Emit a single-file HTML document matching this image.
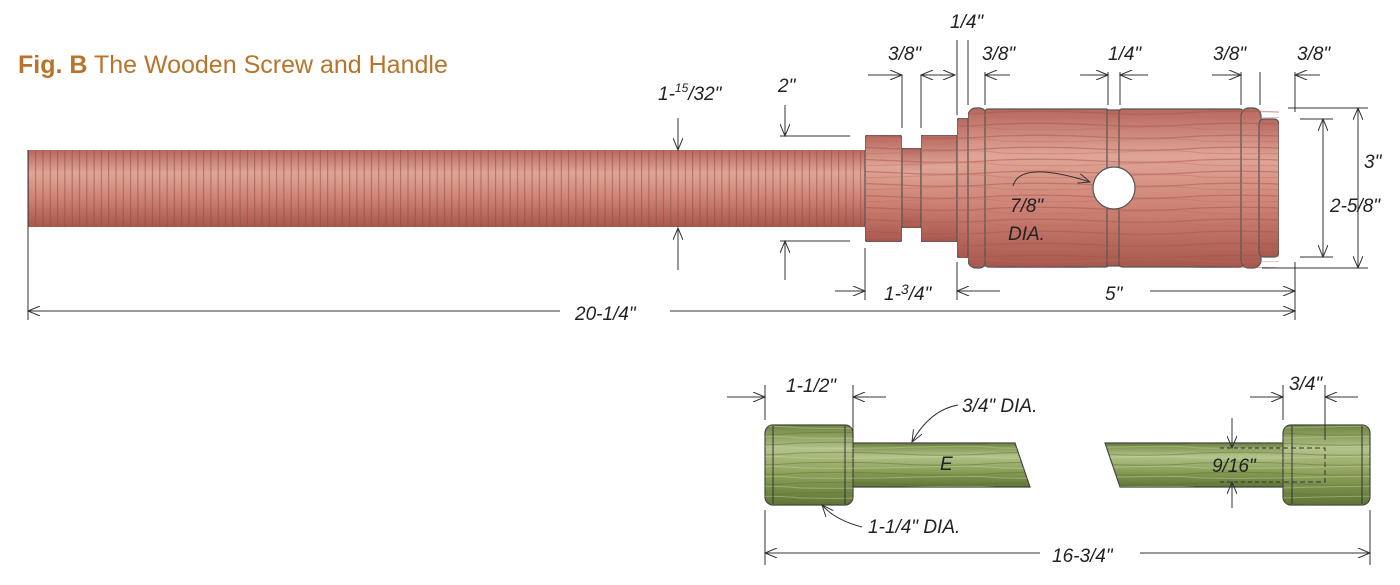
<!DOCTYPE html>
<html><head><meta charset="utf-8"><style>
html,body{margin:0;padding:0;background:#fff;}
svg{display:block}
.h{font-family:"Liberation Sans",sans-serif;font-size:19px;fill:#222;font-style:italic}
.l{stroke:#333;stroke-width:1;fill:none}
</style></head><body>
<svg width="1400" height="585" viewBox="0 0 1400 585" xmlns="http://www.w3.org/2000/svg">
<defs>
<linearGradient id="rv" x1="0" y1="0" x2="0" y2="1">
<stop offset="0" stop-color="#b8685e"/><stop offset="0.3" stop-color="#e0a596"/><stop offset="0.6" stop-color="#cf8577"/><stop offset="1" stop-color="#a9574d"/>
</linearGradient>
<pattern id="th" width="7.3" height="100" patternUnits="userSpaceOnUse">
<line x1="6.5" y1="0" x2="6.5" y2="100" stroke="#8a4a42" stroke-width="1" opacity="0.6"/>
</pattern>
<pattern id="grain" width="200" height="12" patternUnits="userSpaceOnUse">
<path d="M0 4 Q50 2 100 5 T200 4" stroke="#a3554b" stroke-width="1.3" fill="none" opacity="0.6"/>
<path d="M0 9 Q60 11 120 8 T200 9" stroke="#b86a5f" stroke-width="1" fill="none" opacity="0.5"/>
</pattern>
<linearGradient id="gv" x1="0" y1="0" x2="0" y2="1">
<stop offset="0" stop-color="#6f8440"/><stop offset="0.3" stop-color="#b3c28a"/><stop offset="0.6" stop-color="#8ea25c"/><stop offset="1" stop-color="#5f7535"/>
</linearGradient>
<pattern id="gg" width="200" height="10" patternUnits="userSpaceOnUse">
<path d="M0 3 Q50 1 100 4 T200 3" stroke="#5d7230" stroke-width="1" fill="none" opacity="0.5"/>
<path d="M0 8 Q60 9 120 7 T200 8" stroke="#d0dbb0" stroke-width="1" fill="none" opacity="0.4"/>
</pattern>
<marker id="a" viewBox="0 0 12 10" refX="12" refY="5" markerWidth="14" markerHeight="10" markerUnits="userSpaceOnUse" orient="auto"><path d="M0 0 L12 5 L0 10" fill="none" stroke="#333" stroke-width="1"/></marker>
</defs>

<rect x="28" y="150" width="838" height="77" fill="url(#rv)"/>
<rect x="28" y="150" width="838" height="77" fill="url(#th)"/>
<g stroke="#555" stroke-width="1.2">
<rect x="865" y="135" width="37" height="107" rx="3" fill="url(#rv)"/>
<rect x="902" y="148" width="19" height="80" fill="url(#rv)"/>
<rect x="921" y="135" width="36" height="107" rx="2" fill="url(#rv)"/>
<rect x="957" y="118" width="13" height="140" rx="3" fill="url(#rv)"/>
<rect x="968" y="108" width="19" height="160" rx="8" fill="url(#rv)"/>
<rect x="985" y="109" width="124" height="158" rx="3" fill="url(#rv)"/>
<rect x="1107" y="110" width="13" height="156" fill="url(#rv)"/>
<rect x="1119" y="109" width="124" height="158" rx="3" fill="url(#rv)"/>
<rect x="1241" y="108" width="20" height="160" rx="8" fill="url(#rv)"/>
<rect x="1259" y="119" width="20" height="138" rx="5" fill="url(#rv)"/>
</g>
<rect x="865" y="108" width="414" height="160" fill="url(#grain)" opacity="0.8"/>
<rect x="28" y="90" width="837" height="60" fill="#fff"/>
<rect x="28" y="227" width="837" height="41" fill="#fff"/>
<rect x="865" y="108" width="92" height="27" fill="#fff"/><rect x="865" y="242" width="92" height="26" fill="#fff"/>
<rect x="902" y="135" width="19" height="13" fill="#fff"/><rect x="902" y="228" width="19" height="14" fill="#fff"/>
<rect x="957" y="108" width="11" height="10" fill="#fff"/><rect x="957" y="258" width="11" height="10" fill="#fff"/>
<rect x="1279" y="108" width="10" height="160" fill="#fff"/>
<circle cx="1114" cy="188" r="21" fill="#fff" stroke="#555" stroke-width="1.2"/>
<path d="M1013 186 Q1020 160 1090 182" class="l" marker-end="url(#a)"/>
<text x="1010" y="212" class="h">7/8"</text><text x="1008" y="240" class="h">DIA.</text>

<g class="l">
<line x1="902" y1="75" x2="902" y2="128"/><line x1="921" y1="75" x2="921" y2="128"/>
<line x1="868" y1="75" x2="902" y2="75" marker-end="url(#a)"/><line x1="955" y1="75" x2="921" y2="75" marker-end="url(#a)"/><line x1="921" y1="75" x2="955" y2="75" marker-end="url(#a)"/>
<line x1="957" y1="40" x2="957" y2="115"/><line x1="968" y1="40" x2="968" y2="105"/>
<line x1="985" y1="72" x2="985" y2="105"/><line x1="1010" y1="75" x2="985" y2="75" marker-end="url(#a)"/>
<line x1="1108" y1="72" x2="1108" y2="105"/><line x1="1120" y1="72" x2="1120" y2="105"/>
<line x1="1080" y1="75" x2="1108" y2="75" marker-end="url(#a)"/><line x1="1148" y1="75" x2="1120" y2="75" marker-end="url(#a)"/>
<line x1="1241" y1="72" x2="1241" y2="105"/><line x1="1260" y1="72" x2="1260" y2="105"/>
<line x1="1212" y1="75" x2="1241" y2="75" marker-end="url(#a)"/>
<line x1="1295" y1="72" x2="1295" y2="112"/><line x1="1320" y1="75" x2="1295" y2="75" marker-end="url(#a)"/>
<line x1="1288" y1="108" x2="1368" y2="108"/><line x1="1262" y1="268" x2="1368" y2="268"/>
<line x1="1358" y1="188" x2="1358" y2="108" marker-end="url(#a)"/><line x1="1358" y1="188" x2="1358" y2="268" marker-end="url(#a)"/>
<line x1="1300" y1="119" x2="1333" y2="119"/><line x1="1300" y1="257" x2="1333" y2="257"/>
<line x1="1323" y1="188" x2="1323" y2="119" marker-end="url(#a)"/><line x1="1323" y1="188" x2="1323" y2="257" marker-end="url(#a)"/>
<line x1="780" y1="136" x2="850" y2="136"/><line x1="780" y1="241" x2="850" y2="241"/>
<line x1="785" y1="105" x2="785" y2="136" marker-end="url(#a)"/><line x1="785" y1="280" x2="785" y2="241" marker-end="url(#a)"/>
<line x1="678" y1="118" x2="678" y2="150" marker-end="url(#a)"/><line x1="678" y1="270" x2="678" y2="228" marker-end="url(#a)"/>
<line x1="865" y1="248" x2="865" y2="300"/><line x1="957" y1="262" x2="957" y2="300"/><line x1="1295" y1="262" x2="1295" y2="320"/>
<line x1="835" y1="291" x2="865" y2="291" marker-end="url(#a)"/>
<line x1="1000" y1="291" x2="957" y2="291" marker-end="url(#a)"/><line x1="1150" y1="291" x2="1295" y2="291" marker-end="url(#a)"/>
<line x1="28" y1="150" x2="28" y2="320"/>
<line x1="560" y1="311" x2="28" y2="311" marker-end="url(#a)"/><line x1="670" y1="311" x2="1295" y2="311" marker-end="url(#a)"/>
</g>
<text x="888" y="60" class="h">3/8"</text>
<text x="950" y="28" class="h">1/4"</text>
<text x="982" y="60" class="h">3/8"</text>
<text x="1108" y="60" class="h">1/4"</text>
<text x="1213" y="60" class="h">3/8"</text>
<text x="1297" y="60" class="h">3/8"</text>
<text x="1364" y="168" class="h" font-size="21">3"</text>
<text x="1330" y="212" class="h">2-5/8"</text>
<text x="778" y="92" class="h">2"</text>
<text x="658" y="100" class="h">1-<tspan font-size="12" dy="-8">15</tspan><tspan dy="8">/32"</tspan></text>
<text x="884" y="300" class="h">1-<tspan font-size="14" dy="-6">3</tspan><tspan dy="6">/4"</tspan></text>
<text x="1105" y="300" class="h">5"</text>
<text x="575" y="320" class="h">20-1/4"</text>

<g stroke="#444" stroke-width="1.2">
<path d="M853 443 L1015 443 L1030 487 L853 487 Z" fill="url(#gv)"/>
<path d="M1105 443 L1283 443 L1283 487 L1120 487 Z" fill="url(#gv)"/>
<rect x="765" y="425" width="88" height="80" rx="8" fill="url(#gv)"/>
<rect x="1283" y="425" width="87" height="80" rx="8" fill="url(#gv)"/>
</g>
<path d="M853 443 L1015 443 L1030 487 L853 487 Z" fill="url(#gg)"/>
<path d="M1105 443 L1283 443 L1283 487 L1120 487 Z" fill="url(#gg)"/>
<rect x="765" y="425" width="88" height="80" rx="8" fill="url(#gg)"/>
<rect x="1283" y="425" width="87" height="80" rx="8" fill="url(#gg)"/>
<g class="l">
<line x1="773" y1="426" x2="773" y2="504"/><line x1="845" y1="426" x2="845" y2="504"/>
<line x1="1292" y1="426" x2="1292" y2="504"/><line x1="1362" y1="426" x2="1362" y2="504"/>
<path d="M1283 448 H1325 V482 H1283" stroke-dasharray="5,3"/>
<line x1="1220" y1="448" x2="1282" y2="448" stroke-dasharray="4,3"/><line x1="1220" y1="482" x2="1282" y2="482" stroke-dasharray="4,3"/>
<line x1="765" y1="385" x2="765" y2="420"/><line x1="853" y1="385" x2="853" y2="438"/>
<line x1="727" y1="397" x2="765" y2="397" marker-end="url(#a)"/><line x1="886" y1="397" x2="853" y2="397" marker-end="url(#a)"/>
<line x1="1283" y1="385" x2="1283" y2="420"/><line x1="1325" y1="385" x2="1325" y2="440"/>
<line x1="1250" y1="397" x2="1283" y2="397" marker-end="url(#a)"/><line x1="1358" y1="397" x2="1325" y2="397" marker-end="url(#a)"/>
<line x1="1232" y1="418" x2="1232" y2="448" marker-end="url(#a)"/><line x1="1232" y1="508" x2="1232" y2="482" marker-end="url(#a)"/>
<path d="M958 405 Q930 410 912 442" marker-end="url(#a)"/>
<path d="M862 527 Q835 520 822 505" marker-end="url(#a)"/>
<line x1="765" y1="510" x2="765" y2="565"/><line x1="1370" y1="510" x2="1370" y2="565"/>
<line x1="1040" y1="553" x2="765" y2="553" marker-end="url(#a)"/><line x1="1140" y1="553" x2="1370" y2="553" marker-end="url(#a)"/>
</g>
<text x="786" y="392" class="h">1-1/2"</text>
<text x="1289" y="390" class="h">3/4"</text>
<text x="962" y="412" class="h">3/4" DIA.</text>
<text x="940" y="470" class="h">E</text>
<text x="1212" y="472" class="h">9/16"</text>
<text x="868" y="533" class="h">1-1/4" DIA.</text>
<text x="1052" y="562" class="h">16-3/4"</text>

<text x="18" y="73" font-family="Liberation Sans,sans-serif" font-size="25" fill="#b8742a"><tspan font-weight="bold">Fig. B</tspan> The Wooden Screw and Handle</text>
</svg>
</body></html>
